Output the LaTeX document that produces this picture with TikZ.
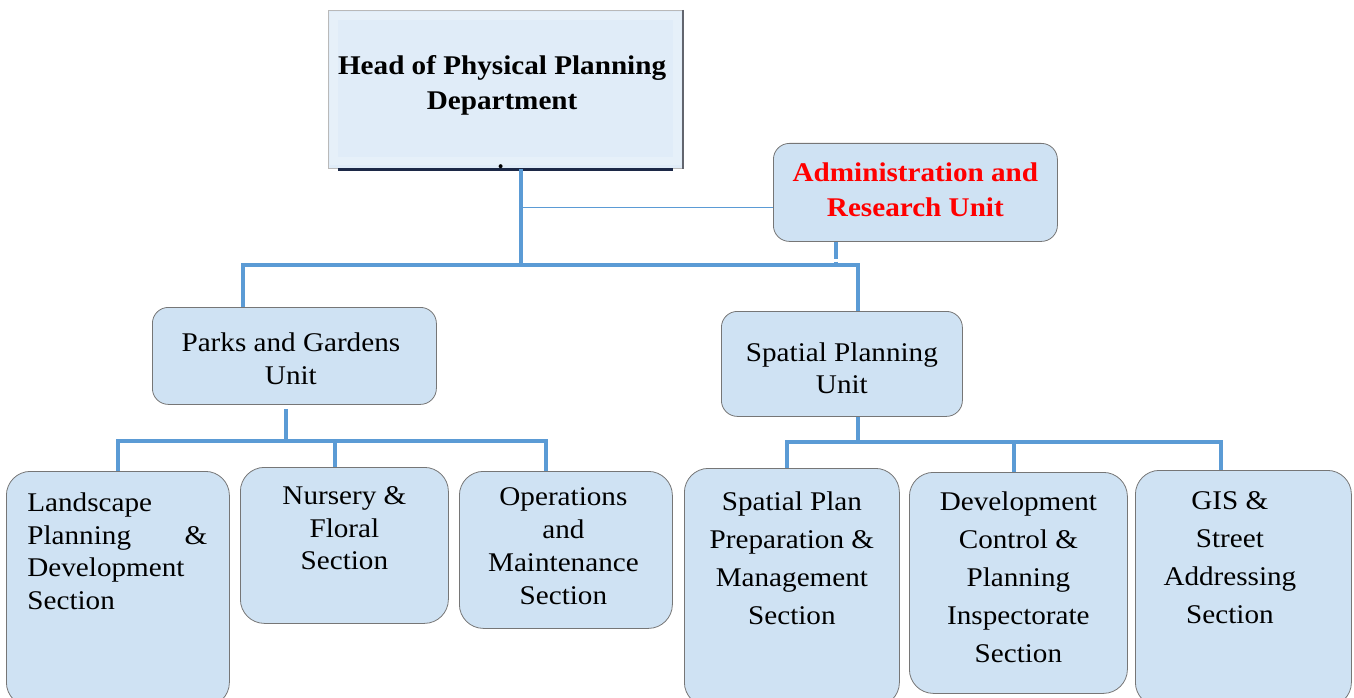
\documentclass[tikz,border=0pt]{standalone}
\usepackage{fontspec}
\setmainfont[FakeStretch=1.08]{Liberation Serif}
\definecolor{boxfill}{RGB}{207,226,243}
\definecolor{headfill}{RGB}{224,236,248}
\definecolor{linkblue}{RGB}{91,155,213}
\definecolor{rimgray}{RGB}{118,118,118}
\definecolor{navy}{RGB}{28,40,70}
\newcommand{\secbox}[4]{\parbox[t][#2][t]{#1}{\vspace*{#3}\centering#4}}

\begin{document}
\begin{tikzpicture}[x=1pt, y=-1pt,
  box/.style={draw=rimgray, fill=boxfill, line width=.8pt, inner sep=0pt, anchor=north west, rounded corners=16pt},
  sec/.style={box, rounded corners=24pt},
  link/.style={draw=linkblue, line width=4pt},
  thinlink/.style={draw=linkblue, line width=1pt}]
\useasboundingbox (0,0) rectangle (1354,698);

% top of the chart
\node[box, fill=headfill, draw=gray!55, line width=1.2pt, rounded corners=0pt, font=\bfseries\fontsize{27}{35}\selectfont] (head) at (328,10)
  {\secbox{354pt}{158pt}{44.5pt}{\advance\rightskip 7pt Head of Physical Planning\\Department}};
\draw[white, opacity=.22, line width=8pt] ([shift={(6pt,-6pt)}]head.north west) rectangle ([shift={(-6pt,8pt)}]head.south east);
\draw[navy, line width=3pt] ([xshift=10pt]head.south west) -- ([xshift=-10pt]head.south east);
\draw[gray!70!navy, line width=1.5pt] (head.north east) -- (head.south east);
\fill ([shift={(-5pt,3pt)}]head.south) circle (2pt);
\node[box, font=\bfseries\fontsize{27}{35}\selectfont, text=red] (admin) at (773,143)
  {\secbox{284pt}{98pt}{19.5pt}{Administration and\\Research Unit}};

% units
\node[box, font=\fontsize{27}{33}\selectfont] (parks) at (152,307)
  {\secbox{284pt}{97pt}{25.5pt}{\advance\rightskip 7pt Parks and Gardens\\Unit}};
\node[box, font=\fontsize{27}{32}\selectfont] (spatial) at (721,311)
  {\secbox{241pt}{105pt}{31.5pt}{Spatial Planning\\Unit}};

% sections
\node[sec, font=\fontsize{27}{32.5}\selectfont] (landscape) at (6,471)
  {\secbox{223pt}{235pt}{21.5pt}{\leftskip=21pt\relax \rightskip=22pt plus 1fil\relax Landscape\\Planning\hfill\&\\Development\\Section}};
\node[sec, font=\fontsize{27}{32.5}\selectfont] (nursery) at (240,467)
  {\secbox{208pt}{156pt}{19.5pt}{Nursery \&\\Floral\\Section}};
\node[sec, font=\fontsize{27}{33}\selectfont] (operations) at (459,471)
  {\secbox{213pt}{157pt}{16.5pt}{\advance\rightskip 5pt Operations\\and\\Maintenance\\Section}};
\node[sec, font=\fontsize{27}{38}\selectfont] (spplan) at (684,468)
  {\secbox{215pt}{238pt}{23.5pt}{Spatial Plan\\Preparation \&\\Management\\Section}};
\node[sec, font=\fontsize{27}{38}\selectfont] (devctl) at (909,472)
  {\secbox{218pt}{221pt}{19.5pt}{Development\\Control \&\\Planning\\Inspectorate\\Section}};
\node[sec, font=\fontsize{27}{38}\selectfont] (gis) at (1135,470)
  {\secbox{216pt}{236pt}{21.5pt}{\advance\rightskip 27pt GIS \&\\Street\\Addressing\\Section}};

% connectors
\coordinate (hub) at (521,265);
\coordinate (tap) at (521,207);
\coordinate (pkbar) at (286,441);
\coordinate (spbar) at (858,442);
\draw[link] (head.south -| hub) -- (hub);
\draw[thinlink] (tap) -- (admin.west |- tap);
\draw[link, dash pattern=on 17pt off 3pt on 20pt] (admin.south -| 836,0) -- (hub -| 836,0);
\draw[link] (parks.north -| 243,0) |- (hub) -| (spatial.north -| 858,0);

\draw[link] ([yshift=-4pt]parks.south -| pkbar) -- (pkbar);
\draw[link] (landscape.north) |- (pkbar) -| (operations.north -| 546,0);
\draw[link] (nursery.north -| 335,0) -- (pkbar -| 335,0);

\draw[link] (spatial.south -| spbar) -- (spbar);
\draw[link] (spplan.north -| 787,0) |- (spbar) -| (gis.north -| 1221,0);
\draw[link] (devctl.north -| 1014,0) -- (spbar -| 1014,0);
\end{tikzpicture}
\end{document}
